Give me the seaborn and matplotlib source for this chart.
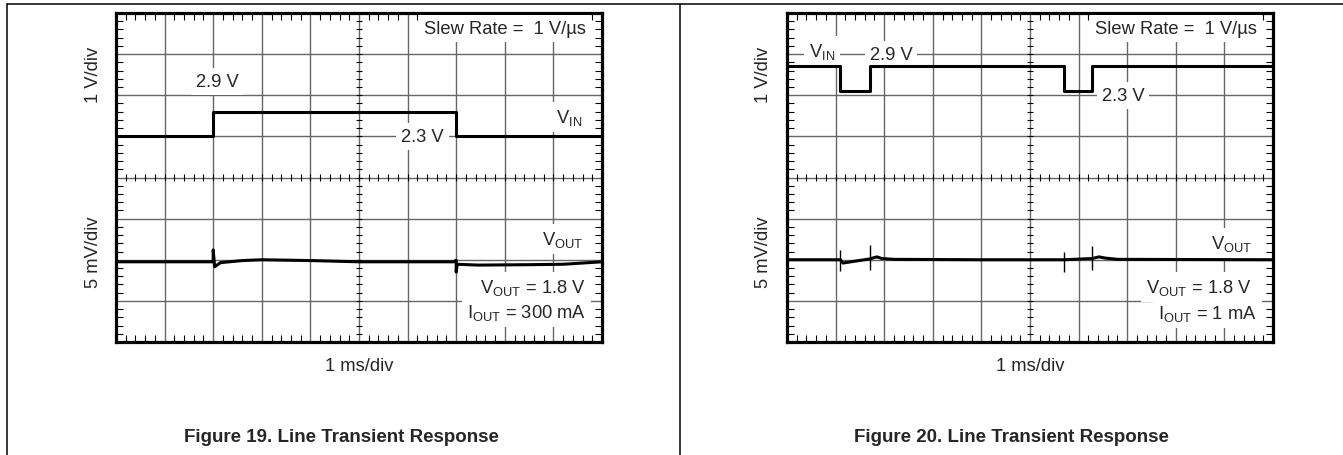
import numpy as np
import matplotlib
matplotlib.use("Agg")
import matplotlib.pyplot as plt
from matplotlib.lines import Line2D
import seaborn as sns

# -------- DATA (time in ms, 1 ms/div) --------
# Figure 19: VIN steps 2.3 V -> 2.9 V -> 2.3 V, IOUT = 300 mA
t_in_19 = [0, 2.0, 2.0, 7.0, 7.0, 10]
vin_19 = [2.3, 2.3, 2.9, 2.9, 2.3, 2.3]
t_out_19 = [0, 1.99, 2.0, 2.0, 2.03, 2.15, 2.6, 3.0, 4.0, 5.0, 6.95, 7.0, 7.0, 7.02, 7.45, 8.5, 9.2, 10]
vout_19 = [0, 0, 0, 1.45, -0.6, -0.1, 0.15, 0.25, 0.15, 0, 0, 0.2, -1.25, -0.3, -0.4, -0.35, -0.3, 0]  # mV deviation

# Figure 20: VIN pulses 2.9 V -> 2.3 V -> 2.9 V, IOUT = 1 mA
t_in_20 = [0, 1.1, 1.1, 1.7, 1.7, 5.7, 5.7, 6.28, 6.28, 10]
vin_20 = [2.9, 2.9, 2.3, 2.3, 2.9, 2.9, 2.3, 2.3, 2.9, 2.9]
t_out_20 = [0, 1.1, 1.15, 1.7, 1.85, 1.95, 2.2, 4.0, 5.7, 6.28, 6.42, 6.55, 6.8, 10]
vout_20 = [0, 0, -0.4, 0.1, 0.35, 0.15, 0.05, 0, 0, 0.15, 0.35, 0.2, 0.05, 0]  # mV deviation
spike_t_20 = [1.1, 1.7, 5.7, 6.28]
spike_hi_20 = [1.15, 1.75, 1.0, 1.7]
spike_lo_20 = [-1.4, -1.2, -1.5, -1.2]

# screen placement of each trace (divisions from bottom)
VIN_POS = {19: 2.7, 20: 3.8}    # div offset for 1 V/div
VOUT_POS = {19: 1.95, 20: 2.0}  # baseline div
MV_PER_DIV = 5.0

# -------- STYLE --------
sns.set_style("white")
plt.rcParams["font.family"] = ["Liberation Sans", "DejaVu Sans"]
plt.rcParams["mathtext.fontset"] = "custom"
plt.rcParams["mathtext.rm"] = "Liberation Sans"
plt.rcParams["mathtext.it"] = "Liberation Sans:italic"
plt.rcParams["mathtext.bf"] = "Liberation Sans:bold"

W, H = 1343, 456
fig = plt.figure(figsize=(W / 100, H / 100), dpi=100)

FS = 13.2
GRID = "#666666"
box = dict(facecolor="white", edgecolor="none", pad=3.5)


def scope_axes(left_px):
    ax = fig.add_axes([left_px / W, (H - 343) / H, 486 / W, 329 / H])
    ax.set_xlim(0, 10)
    ax.set_ylim(0, 8)
    ax.set_xticks(range(11))
    ax.set_yticks(range(9))
    ax.set_xticks(np.arange(0, 10.01, 0.2), minor=True)
    ax.set_yticks(np.arange(0, 8.01, 0.2), minor=True)
    ax.grid(True, which="major", color=GRID, lw=1.0)
    ax.set_axisbelow(True)
    ax.tick_params(which="major", length=0)
    ax.tick_params(which="minor", direction="in", length=5, width=0.8,
                   top=True, right=True, bottom=True, left=True, color="black")
    ax.tick_params(labelbottom=False, labelleft=False)
    for s in ax.spines.values():
        s.set_linewidth(2.3)
        s.set_color("black")
    # centre cross-hair ticks
    ax.vlines(np.arange(0, 10.01, 0.2), 4 - 0.08, 4 + 0.08, color="black", lw=0.8, zorder=2)
    ax.hlines(np.arange(0, 8.01, 0.2), 5 - 0.07, 5 + 0.07, color="black", lw=0.8, zorder=2)
    return ax


def trace(ax, t, y):
    sns.lineplot(x=t, y=y, estimator=None, sort=False, color="black",
                 linewidth=2.2, ax=ax, zorder=5)


# -------- FIGURE 19 --------
ax1 = scope_axes(116)
trace(ax1, t_in_19, [v + VIN_POS[19] for v in vin_19])
trace(ax1, t_out_19, [VOUT_POS[19] + v / MV_PER_DIV for v in vout_19])
ax1.text(9.67, 7.62, "Slew Rate =  1 V/\u00b5s", ha="right", va="center", fontsize=FS, bbox=box, zorder=3)
ax1.text(2.08, 6.33, "2.9 V", ha="center", va="center", fontsize=FS, bbox=box, zorder=3)
ax1.text(6.31, 4.99, "2.3 V", ha="center", va="center", fontsize=FS, bbox=box, zorder=3)
ax1.text(9.6, 5.47, r"V$_{\mathrm{IN}}$", ha="right", va="center", fontsize=FS, bbox=box, zorder=3)
ax1.text(9.61, 2.51, r"V$_{\mathrm{OUT}}$", ha="right", va="center", fontsize=FS, bbox=box, zorder=3)
ax1.text(9.67, 1.34, r"V$_{\mathrm{OUT}}$ = 1.8 V", ha="right", va="center", fontsize=FS, bbox=box, zorder=3)
ax1.text(9.67, 0.73, r"I$_{\mathrm{OUT}}$ = 300 mA", ha="right", va="center", fontsize=FS, bbox=box, zorder=3)

# -------- FIGURE 20 --------
ax2 = scope_axes(787)
trace(ax2, t_in_20, [v + VIN_POS[20] for v in vin_20])
trace(ax2, t_out_20, [VOUT_POS[20] + v / MV_PER_DIV for v in vout_20])
ax2.vlines(spike_t_20, [VOUT_POS[20] + v / MV_PER_DIV for v in spike_lo_20],
           [VOUT_POS[20] + v / MV_PER_DIV for v in spike_hi_20], color="black", lw=1.0, zorder=5)
ax2.text(9.67, 7.62, "Slew Rate =  1 V/\u00b5s", ha="right", va="center", fontsize=FS, bbox=box, zorder=3)
ax2.text(0.72, 7.08, r"V$_{\mathrm{IN}}$", ha="center", va="center", fontsize=FS, bbox=box, zorder=3)
ax2.text(2.14, 7.0, "2.9 V", ha="center", va="center", fontsize=FS, bbox=box, zorder=3)
ax2.text(6.91, 5.99, "2.3 V", ha="center", va="center", fontsize=FS, bbox=box, zorder=3)
ax2.text(9.57, 2.4, r"V$_{\mathrm{OUT}}$", ha="right", va="center", fontsize=FS, bbox=box, zorder=3)
ax2.text(9.57, 1.34, r"V$_{\mathrm{OUT}}$ = 1.8 V", ha="right", va="center", fontsize=FS, bbox=box, zorder=3)
ax2.text(9.67, 0.71, r"I$_{\mathrm{OUT}}$ = 1 mA", ha="right", va="center", fontsize=FS, bbox=box, zorder=3)

# -------- LABELS & PAGE FRAME --------
def ftext(x, y, s, **kw):
    fig.text(x / W, 1 - y / H, s, ha="center", va="center", **kw)


for xl, xc, xcap, num in [(93, 359, 341, 19), (763, 1030, 1011, 20)]:
    ftext(xl, 75, "1 V/div", rotation=90, fontsize=FS)
    ftext(xl, 252, "5 mV/div", rotation=90, fontsize=FS)
    ftext(xc, 367, "1 ms/div", fontsize=FS)
    ftext(xcap, 438, f"Figure {num}. Line Transient Response", fontsize=13.5, fontweight="bold")

fig.add_artist(Line2D([7 / W, 1], [1 - 5 / H] * 2, color="black", lw=1.1, transform=fig.transFigure))
for xv in (7, 680):
    fig.add_artist(Line2D([xv / W] * 2, [0, 1 - 5 / H], color="black", lw=1.1, transform=fig.transFigure))

fig.savefig("out.png", dpi=100)
